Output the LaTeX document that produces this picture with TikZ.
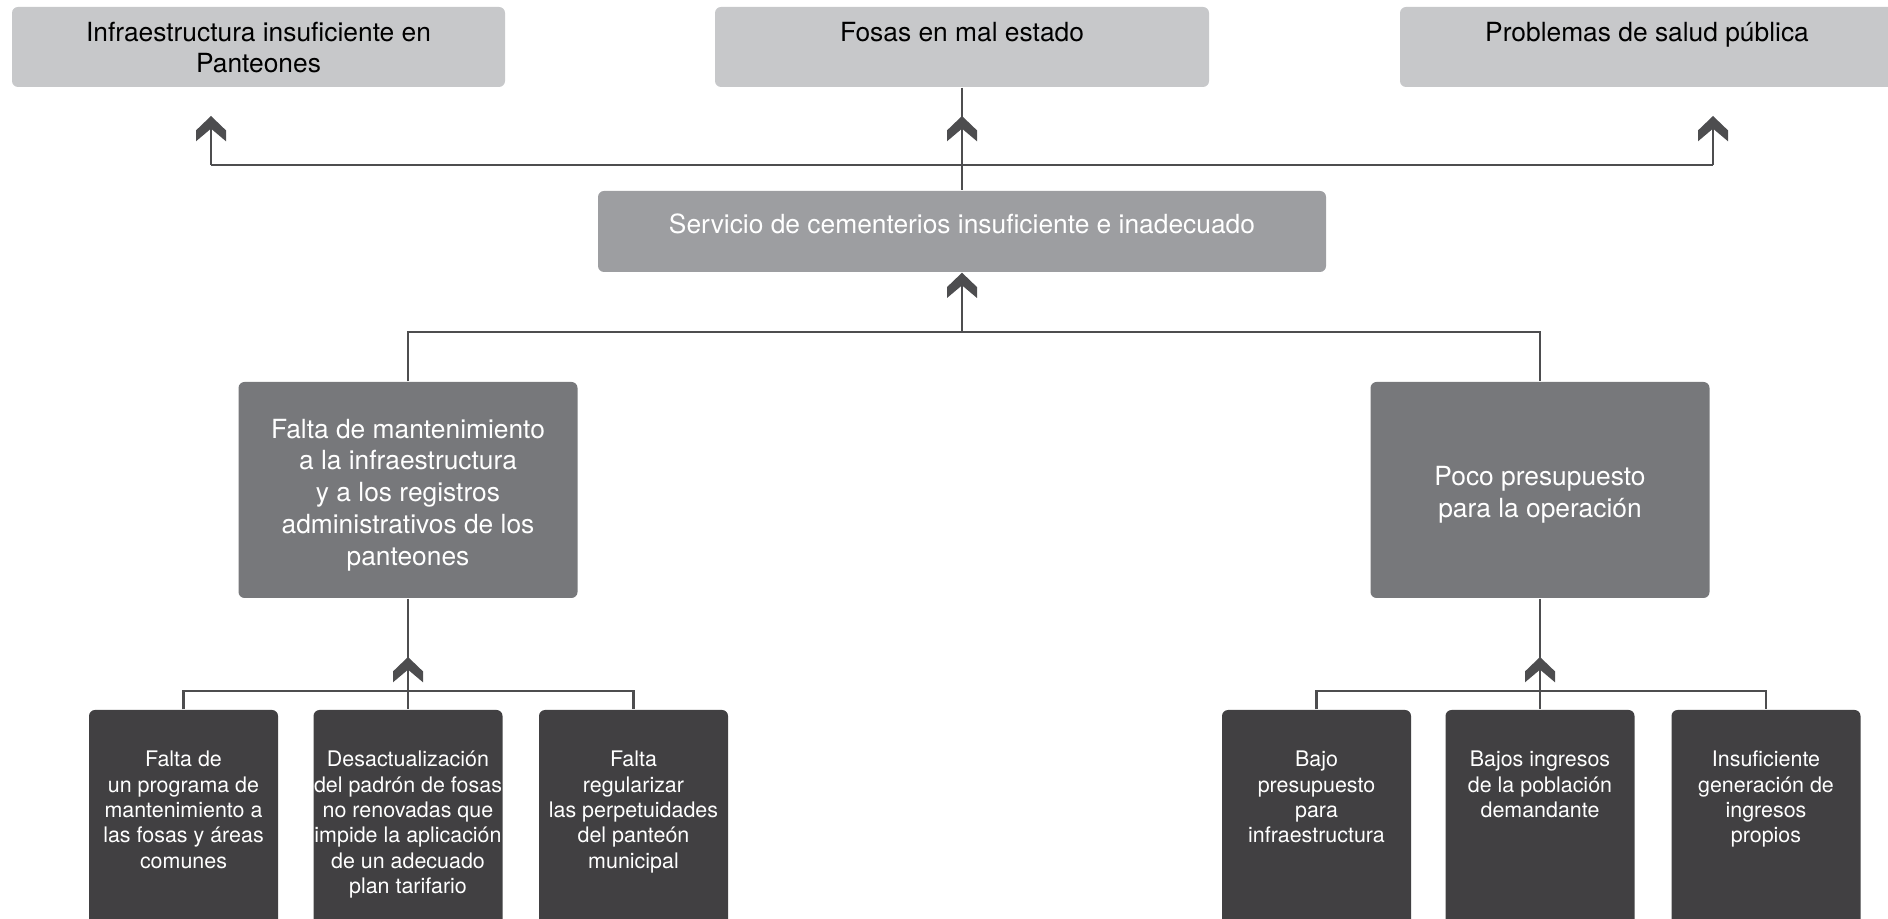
\documentclass[tikz,border=0pt]{standalone}
\usepackage{fontspec}
\setmainfont{TeX Gyre Heros}
\usepackage{xcolor}
\usepackage{tikz}
\usetikzlibrary{arrows.meta}

\definecolor{efectogris}{HTML}{C7C8CA}
\definecolor{problemagris}{HTML}{9D9EA1}
\definecolor{causagris}{HTML}{77787B}
\definecolor{subcausagris}{HTML}{414042}
\definecolor{lineagris}{HTML}{4D4D4F}

% texto pegado arriba: ancho, alto, primera linea, contenido
\newcommand{\cajatexto}[4]{\parbox[c][#2][t]{#1}{\centering\rule{0pt}{#3}#4\par}}
% texto centrado: ancho, alto, contenido
\newcommand{\cajacentro}[3]{\parbox[c][#2][c]{#1}{\centering\vspace*{1mm}#3\par}}

% punta en forma de chevron
\pgfdeclarearrow{
  name = Chevron,
  parameters = {\the\pgfarrowlength,\the\pgfarrowwidth},
  setup code = {
    \pgfarrowssettipend{0pt}
    \pgfarrowssetbackend{-\pgfarrowlength}
    \pgfarrowssetlineend{-0.5\pgfarrowlength}
    \pgfarrowssavethe\pgfarrowlength
    \pgfarrowssavethe\pgfarrowwidth
  },
  drawing code = {
    \pgfpathmoveto{\pgfpointorigin}
    \pgfpathlineto{\pgfpoint{-0.57\pgfarrowlength}{0.5\pgfarrowwidth}}
    \pgfpathlineto{\pgfpoint{-\pgfarrowlength}{0.5\pgfarrowwidth}}
    \pgfpathlineto{\pgfpoint{-0.5\pgfarrowlength}{0pt}}
    \pgfpathlineto{\pgfpoint{-\pgfarrowlength}{-0.5\pgfarrowwidth}}
    \pgfpathlineto{\pgfpoint{-0.57\pgfarrowlength}{-0.5\pgfarrowwidth}}
    \pgfpathclose
    \pgfusepathqfill
  },
  defaults = {length=2.53mm, width=3mm}
}

\begin{document}
\begin{tikzpicture}[
    caja/.style={inner sep=0pt, rounded corners=0.6mm},
    efecto/.style={caja, fill=efectogris, text=black, font=\fontsize{7.5pt}{8.9pt}\selectfont},
    problema/.style={caja, fill=problemagris, text=white, font=\fontsize{7.5pt}{8.9pt}\selectfont},
    causa/.style={caja, fill=causagris, text=white, font=\fontsize{7.5pt}{9.05pt}\selectfont},
    subcausa/.style={caja, fill=subcausagris, text=white, font=\fontsize{6.1pt}{7.2pt}\selectfont},
    conector/.style={draw=lineagris, line width=0.7pt},
    flecha/.style={conector, -{Chevron}}
]
\useasboundingbox (0,0) rectangle (18.88,-9.19);
\clip (0,0) rectangle (18.88,-9.19);

% Efectos
\node[efecto] (efecto1) at (2.585,-0.47) {\cajatexto{4.93cm}{0.80cm}{9.8pt}{Infraestructura insuficiente en\\Panteones}};
\node[efecto] (efecto2) at (9.62,-0.47) {\cajatexto{4.94cm}{0.80cm}{9.8pt}{Fosas en mal estado}};
\node[efecto] (efecto3) at (16.47,-0.47) {\cajatexto{4.94cm}{0.80cm}{9.8pt}{Problemas de salud pública}};

% Problema central
\node[problema] (problema) at (9.62,-2.315) {\cajatexto{7.28cm}{0.81cm}{12.2pt}{Servicio de cementerios insuficiente e inadecuado}};

% Causas
\node[causa] (causa1) at (4.08,-4.90) {\cajacentro{3.39cm}{2.16cm}{Falta de mantenimiento\\a la infraestructura\\y a los registros\\administrativos de los\\panteones}};
\node[causa] (causa2) at (15.40,-4.90) {\cajacentro{3.39cm}{2.16cm}{Poco presupuesto\\para la operación}};

% Subcausas
\node[subcausa] (sub1) at (1.835,-8.30) {\cajatexto{1.89cm}{2.4cm}{16.2pt}{Falta de\\un programa de\\mantenimiento a\\las fosas y áreas\\comunes}};
\node[subcausa] (sub2) at (4.08,-8.30) {\cajatexto{1.89cm}{2.4cm}{16.2pt}{Desactualización\\del padrón de fosas\\no renovadas que\\impide la aplicación\\de un adecuado\\plan tarifario}};
\node[subcausa] (sub3) at (6.335,-8.30) {\cajatexto{1.89cm}{2.4cm}{16.2pt}{Falta\\regularizar\\las perpetuidades\\del panteón\\municipal}};
\node[subcausa] (sub4) at (13.165,-8.30) {\cajatexto{1.89cm}{2.4cm}{16.2pt}{Bajo\\presupuesto\\para\\infraestructura}};
\node[subcausa] (sub5) at (15.40,-8.30) {\cajatexto{1.89cm}{2.4cm}{16.2pt}{Bajos ingresos\\de la población\\demandante}};
\node[subcausa] (sub6) at (17.66,-8.30) {\cajatexto{1.89cm}{2.4cm}{16.2pt}{Insuficiente\\generación de\\ingresos\\propios}};

% Puntos de union
\coordinate (jE1) at (2.11,-1.65);
\coordinate (jE2) at (9.62,-1.65);
\coordinate (jE3) at (17.13,-1.65);
\coordinate (tE1) at (2.11,-1.16);
\coordinate (tE2) at (9.62,-1.16);
\coordinate (tE3) at (17.13,-1.16);
\coordinate (jP) at (9.62,-3.32);
\coordinate (jC1) at (4.08,-6.91);
\coordinate (tC1) at (4.08,-6.57);
\coordinate (jC2) at (15.40,-6.91);
\coordinate (tC2) at (15.40,-6.57);

% Lineas hacia los efectos
\draw[conector] (jE1) -- (jE3);
\draw[conector] (efecto2.south) -- (problema.north);
\draw[flecha] (jE1) -- (tE1);
\draw[flecha] (jE2) -- (tE2);
\draw[flecha] (jE3) -- (tE3);

% Lineas desde las causas
\draw[conector] (causa1.north) -- (causa1.north |- jP) -- (causa2.north |- jP) -- (causa2.north);
\draw[flecha] (jP) -- (problema.south);

% Lineas desde las subcausas
\draw[conector] (sub1.north) |- (jC1) -| (sub3.north);
\draw[conector] (causa1.south) -- (sub2.north);
\draw[flecha] (jC1) -- (tC1);
\draw[conector] (sub4.north) |- (jC2) -| (sub6.north);
\draw[conector] (causa2.south) -- (sub5.north);
\draw[flecha] (jC2) -- (tC2);
\end{tikzpicture}
\end{document}
